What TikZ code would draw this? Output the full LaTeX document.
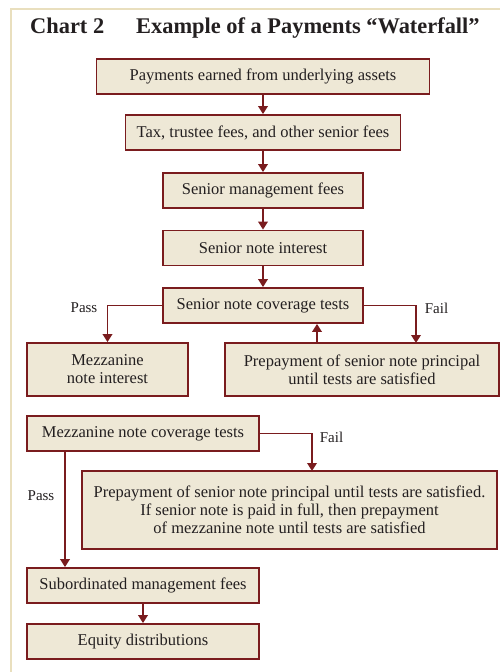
\documentclass[tikz,border=0pt]{standalone}
\usepackage{fontspec}
\setmainfont{Liberation Serif}
\usepackage{tikz}
\usetikzlibrary{arrows.meta, positioning}
\definecolor{boxred}{HTML}{7A1C1E}
\definecolor{boxfill}{HTML}{EEE8D6}
\definecolor{framebeige}{HTML}{E9DFBE}
\definecolor{inkblack}{HTML}{231F20}
\tikzstyle{stage} = [rectangle, draw=boxred, fill=boxfill, line width=1.8pt, inner sep=0,
                     minimum height=35pt, align=center, text=inkblack,
                     font=\fontsize{16.5}{18}\selectfont]
\tikzstyle{flow} = [draw=boxred, line width=1.8pt, -{Triangle[length=8pt, width=9.5pt]}]
\tikzstyle{branch} = [inner sep=0, text=inkblack, font=\fontsize{15}{18}\selectfont]
\tikzstyle{heading} = [inner sep=0, anchor=base west, text=inkblack, font=\fontsize{22.4}{26}\selectfont\bfseries]

\begin{document}
\begin{tikzpicture}[x=1pt, y=-1pt]
				\useasboundingbox (0, 0) rectangle (500, 672);
				\draw[framebeige, line width=2pt] (500, 9) -- (11, 9) -- (11, 672);

				\node (ChartNo) [heading] at (30, 33) {Chart 2};
				\node (ChartTitle) [heading] at (136, 33) {Example of a Payments “Waterfall”};

				\node (Earned) [stage, minimum width=333pt] at (263, 76.5) {Payments earned from underlying assets};
				\node (SeniorFees) [stage, minimum width=275pt] at (263, 132.5) {Tax, trustee fees, and other senior fees};
				\node (SeniorMgmt) [stage, minimum width=200pt] at (263, 190.5) {Senior management fees};
				\node (SeniorInt) [stage, minimum width=200pt] at (263, 248) {Senior note interest};
				\node (SeniorTests) [stage, minimum width=200pt] at (263, 305.5) {Senior note coverage tests};
				\draw[flow] (Earned.south) -- (SeniorFees.north);
				\draw[flow] (SeniorFees.south) -- (SeniorMgmt.north);
				\draw[flow] (SeniorMgmt.south) -- (SeniorInt.north);
				\draw[flow] (SeniorInt.south) -- (SeniorTests.north);

				\node (MezzInt) [stage, minimum width=161pt, minimum height=53pt] at (107.5, 369.5) {Mezzanine\\note interest};
				\node (SeniorPrepay) [stage, minimum width=274pt, minimum height=53pt] at (362, 369.5) {Prepayment of senior note principal\\until tests are satisfied};
				\draw[flow] (SeniorTests.west) -| (MezzInt.north);
				\node (PassSenior) [branch] at (84, 308) {Pass};

				\coordinate (FailSenior) at (416, 343);
				\draw[flow] (SeniorTests.east) -| (FailSenior);
				\node (FailSeniorLabel) [branch] at (436.5, 308) {Fail};

				\coordinate (Retry) at (317, 343);
				\draw[flow] (Retry) -- (Retry |- SeniorTests.south);

				\node (MezzTests) [stage, minimum width=232pt] at (143, 433.5) {Mezzanine note coverage tests};
				\node (MezzPrepay) [stage, minimum width=415pt, minimum height=78pt] at (289.5, 510) {Prepayment of senior note principal until tests are satisfied.\\If senior note is paid in full, then prepayment\\of mezzanine note until tests are satisfied};
				\coordinate (FailMezz) at (312, 471);
				\draw[flow] (MezzTests.east) -| (FailMezz);
				\node (FailMezzLabel) [branch] at (331.5, 437) {Fail};

				\node (Subordinated) [stage, minimum width=232pt] at (143, 585.5) {Subordinated management fees};
				\node (Equity) [stage, minimum width=232pt] at (143, 641.5) {Equity distributions};
				\coordinate (PassMezz) at (65, 451);
				\draw[flow] (PassMezz) -- (PassMezz |- Subordinated.north);
				\node (PassMezzLabel) [branch] at (41, 496) {Pass};
				\draw[flow] (Subordinated.south) -- (Equity.north);
\end{tikzpicture}
\end{document}
